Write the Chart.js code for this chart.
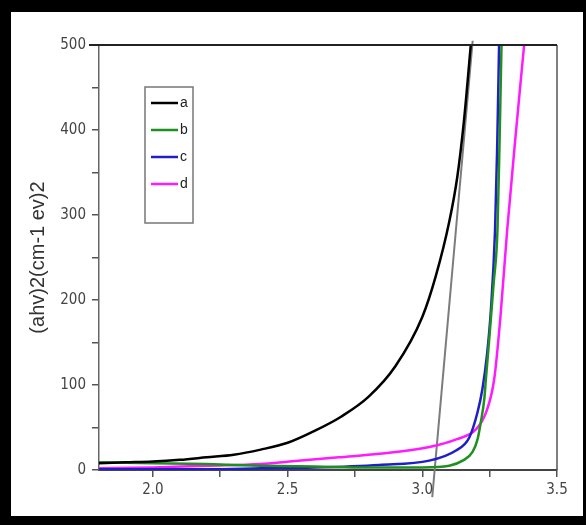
<!DOCTYPE html>
<html>
<head>
<meta charset="utf-8">
<script src="https://cdn.jsdelivr.net/npm/chart.js@4/dist/chart.umd.min.js"></script>
<style>
  html, body { margin: 0; padding: 0; background: #000; }
  #wrap { position: relative; width: 586px; height: 525px; }
</style>
</head>
<body>
<div id="wrap"><canvas id="absChart" width="586" height="525"></canvas></div>
<script>
// hodnoty
const aX = [1.8, 1.9, 2.0, 2.1, 2.2, 2.3, 2.4, 2.5, 2.6, 2.7, 2.8, 2.9, 3.0, 3.05, 3.1, 3.13, 3.155, 3.18];
const aY = [8, 9, 10, 12, 15, 18, 24, 32, 46, 63, 86, 122, 180, 228, 292, 345, 412, 500];

const bX = [1.8, 2.0, 2.2, 2.4, 2.6, 2.8, 3.0, 3.1, 3.15, 3.186, 3.205, 3.217, 3.23, 3.236, 3.25, 3.265, 3.279, 3.287, 3.294];
const bY = [9, 8, 7, 5, 4, 3, 3, 5, 11, 21, 36, 56, 83, 107, 160, 220, 282, 390, 500];

const cX = [1.8, 2.0, 2.2, 2.4, 2.6, 2.84, 3.026, 3.125, 3.174, 3.205, 3.223, 3.24, 3.255, 3.27, 3.278, 3.285];
const cY = [1, 1, 1, 2, 3, 6, 11, 23, 38, 68, 95, 135, 190, 282, 380, 500];

const dX = [1.8, 2.0, 2.2, 2.4, 2.507, 2.69, 2.84, 3.026, 3.126, 3.2, 3.237, 3.267, 3.29, 3.315, 3.348, 3.378];
const dY = [2, 3, 5, 7, 10, 15, 19, 27, 36, 48, 68, 107, 180, 282, 399, 500];

// tečna (šedá čára)
const tangentX = [3.037, 3.187];
const tangentY = [-32, 505];

const seriesLabels = ['a', 'b', 'c', 'd'];
const seriesColors = ['#000000', '#1f8f1f', '#1f1fc8', '#ff1aff'];

const xTickValues = [2.0, 2.25, 2.5, 2.75, 3.0, 3.25, 3.5];
const yTitle = '(ahv)2(cm-1 ev)2';

const tickFont = { family: "'Liberation Sans Narrow', 'DejaVu Sans Condensed', 'Liberation Sans', sans-serif", size: 15 };

function toPoints(xs, ys) {
    return xs.map((x, i) => ({ x: x, y: ys[i] }));
}

const curveSets = [[aX, aY], [bX, bY], [cX, cY], [dX, dY]].map((pair, i) => ({
    label: seriesLabels[i],
    data: toPoints(pair[0], pair[1]),
    borderColor: seriesColors[i],
    backgroundColor: seriesColors[i],
    borderWidth: 2.5,
    pointRadius: 0,
    fill: false,
    cubicInterpolationMode: 'monotone'
}));

curveSets.push({
    label: 'tangent',
    data: toPoints(tangentX, tangentY),
    borderColor: '#7c7c7c',
    borderWidth: 2,
    pointRadius: 0,
    fill: false,
    clip: false
});

// černý rámeček kolem obrázku
const framePlugin = {
    id: 'frame',
    beforeDraw(chart) {
        const ctx = chart.ctx;
        ctx.save();
        ctx.fillStyle = '#000';
        ctx.fillRect(0, 0, chart.width, chart.height);
        ctx.fillStyle = '#fff';
        ctx.fillRect(11, 12, 572, 504);
        ctx.restore();
    },
    afterDatasetsDraw(chart) {
        const { ctx, chartArea: a } = chart;
        ctx.save();
        ctx.strokeStyle = '#555';
        ctx.lineWidth = 1.5;
        ctx.beginPath();
        ctx.moveTo(a.right, a.bottom);
        ctx.lineTo(a.right, a.top);
        ctx.stroke();
        ctx.strokeStyle = '#222';
        ctx.lineWidth = 2;
        ctx.beginPath();
        ctx.moveTo(a.left - 10, a.top);
        ctx.lineTo(a.right, a.top);
        ctx.stroke();
        ctx.restore();
    }
};

// legenda v rámečku uvnitř grafu
const boxLegendPlugin = {
    id: 'boxLegend',
    afterDraw(chart) {
        const { ctx, chartArea: a } = chart;
        const x0 = a.left + 46, y0 = a.top + 42;
        ctx.save();
        ctx.strokeStyle = '#777';
        ctx.lineWidth = 1.5;
        ctx.strokeRect(x0, y0, 48, 136);
        ctx.font = "14px 'Liberation Sans', sans-serif";
        ctx.textBaseline = 'middle';
        chart.data.datasets.slice(0, 4).forEach((ds, i) => {
            const y = y0 + 16 + i * 27;
            ctx.strokeStyle = ds.borderColor;
            ctx.lineWidth = 2.5;
            ctx.beginPath();
            ctx.moveTo(x0 + 6, y);
            ctx.lineTo(x0 + 33, y);
            ctx.stroke();
            ctx.fillStyle = '#222';
            ctx.fillText(ds.label, x0 + 35, y);
        });
        ctx.restore();
    }
};

const ctx = document.getElementById('absChart').getContext('2d');
new Chart(ctx, {
    type: 'line',
    data: { datasets: curveSets },
    plugins: [framePlugin, boxLegendPlugin],
    options: {
        responsive: false,
        devicePixelRatio: 1,
        animation: false,
        layout: { padding: { top: 45, right: 29, bottom: 0, left: 0 } },
        plugins: { legend: { display: false }, tooltip: { enabled: false } },
        scales: {
            x: {
                type: 'linear',
                min: 1.8,
                max: 3.5,
                afterBuildTicks: scale => { scale.ticks = xTickValues.map(v => ({ value: v })); },
                afterFit: scale => { scale.height = 55; },
                ticks: {
                    autoSkip: false,
                    maxRotation: 0,
                    padding: 4,
                    color: '#444',
                    font: tickFont,
                    callback: v => (Math.abs(v * 2 - Math.round(v * 2)) < 1e-6 ? v.toFixed(1) : '')
                },
                grid: { drawOnChartArea: false, tickLength: 7, color: '#555', lineWidth: 1.5 },
                border: { color: '#444', width: 2 }
            },
            y: {
                min: 0,
                max: 500,
                afterFit: scale => { scale.width = 99; },
                ticks: {
                    stepSize: 50,
                    padding: 6,
                    color: '#444',
                    font: tickFont,
                    callback: v => (v % 100 === 0 ? v : '')
                },
                grid: { drawOnChartArea: false, tickLength: 7, color: '#555', lineWidth: 1.5 },
                border: { color: '#666', width: 1.5 },
                title: {
                    display: true,
                    text: yTitle,
                    color: '#333',
                    font: { family: "'Liberation Sans', Arial, sans-serif", size: 20 },
                    padding: { top: 26, bottom: 0 }
                }
            }
        }
    }
});
</script>
</body>
</html>
